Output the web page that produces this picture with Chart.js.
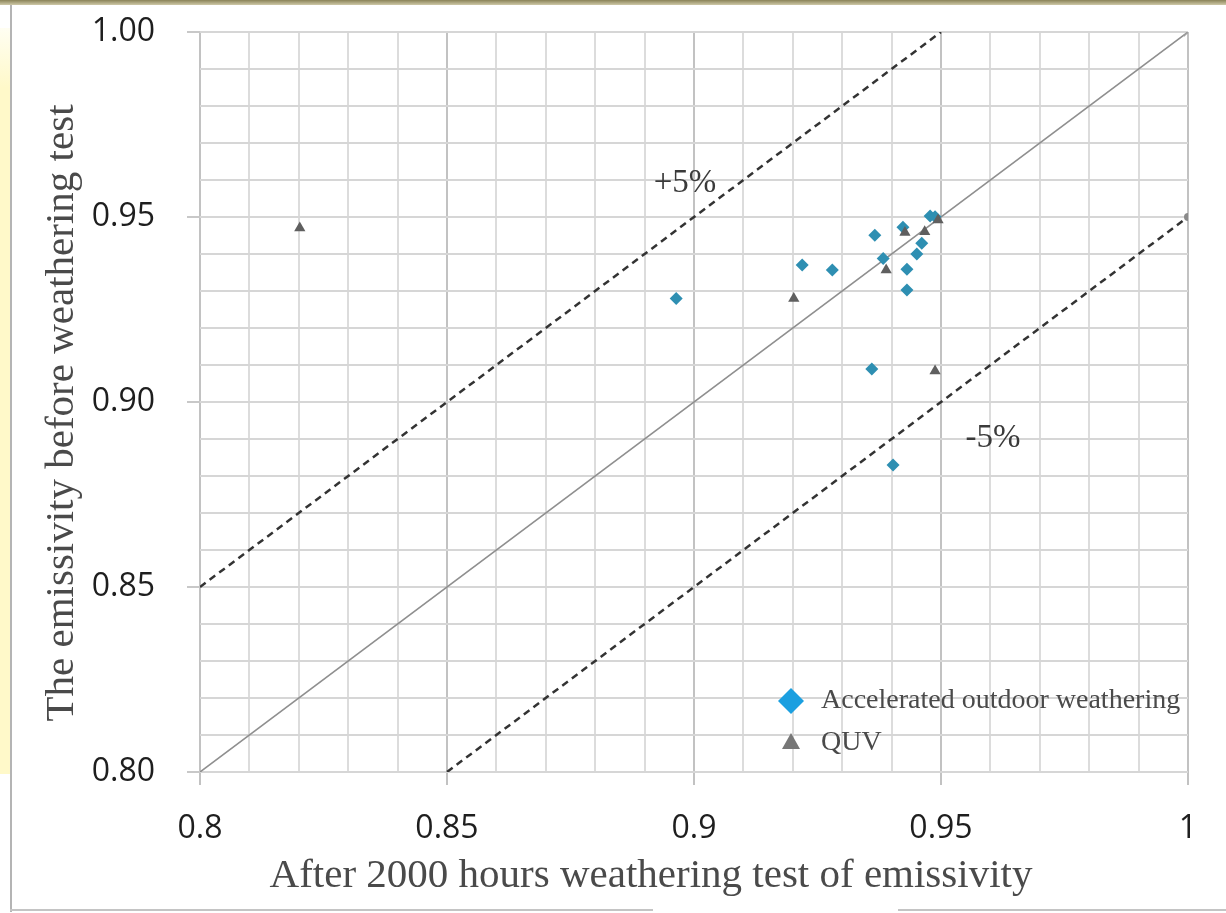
<!DOCTYPE html>
<html>
<head>
<meta charset="utf-8">
<script src="https://cdn.jsdelivr.net/npm/chart.js@4.4.0/dist/chart.umd.min.js"></script>
<style>
  body { margin: 0; background: #fff; width: 1226px; height: 913px; position: relative; overflow: hidden; }
  .frame-top { position: absolute; left: 0; top: 0; width: 1226px; height: 5px; background: linear-gradient(#8a8358, #cfc9a8); }
  .frame-yellow { position: absolute; left: 0; top: 28px; width: 10px; height: 746px; background: linear-gradient(#fffef2, #fff9c9 60px); }
  .frame-left { position: absolute; left: 10px; top: 5px; width: 2px; height: 907px; background: #b4b4b4; }
  .frame-bottom1 { position: absolute; left: 10px; top: 909px; width: 643px; height: 2px; background: #c4c4c4; }
  .frame-bottom2 { position: absolute; left: 898px; top: 909px; width: 328px; height: 2px; background: #c4c4c4; }
  #chart { position: absolute; left: 0; top: 0; }
</style>
</head>
<body>
<div class="frame-top"></div>
<div class="frame-yellow"></div>
<div class="frame-left"></div>
<div class="frame-bottom1"></div>
<div class="frame-bottom2"></div>
<canvas id="chart" width="1226" height="913"></canvas>
<script>
// accelerated outdoor weathering (after, before)
const outdoorX = [0.8964, 0.9219, 0.9280, 0.9366, 0.9383, 0.9423, 0.9431, 0.9431, 0.9451, 0.9461, 0.9478, 0.9488, 0.9360, 0.9403];
const outdoorY = [0.9280, 0.9370, 0.9357, 0.9451, 0.9388, 0.9472, 0.9359, 0.9303, 0.9400, 0.9429, 0.9503, 0.9501, 0.9089, 0.8830];

// QUV
const quvX = [0.8202, 0.9202, 0.9389, 0.9427, 0.9467, 0.9494, 0.9488];
const quvY = [0.9470, 0.9280, 0.9357, 0.9458, 0.9460, 0.9492, 0.9084];

// reference lines y = x, +5%, -5%
const equalLineX = [0.8, 1.0];
const equalLineY = [0.8, 1.0];
const plusLineX = [0.8, 0.95];
const plusLineY = [0.85, 1.0];
const minusLineX = [0.85, 1.0];
const minusLineY = [0.8, 0.95];

const seriesLabels = ["Accelerated outdoor weathering", "QUV"];
const xTitle = "After 2000 hours weathering test of emissivity";
const yTitle = "The emissivity before weathering test";
const axisMin = 0.8;
const axisMax = 1.0;

function pts(xs, ys) {
  return xs.map((x, i) => ({ x: x, y: ys[i] }));
}

function isMajor(v) {
  return Math.round(v * 100) % 5 === 0;
}

const serif = "'Liberation Serif', 'Times New Roman', serif";
const sans = "'Open Sans', 'Liberation Sans', sans-serif";

const overlayPlugin = {
  id: "overlay",
  afterDatasetsDraw(chart) {
    const c = chart.ctx;
    c.save();
    c.fillStyle = "#3a3a3a";
    c.font = "33px " + serif;
    c.textAlign = "center";
    c.textBaseline = "middle";
    c.fillText("+5%", 685, 183);
    c.fillText("-5%", 993, 438);

    // axis titles
    c.fillStyle = "#4a4a4a";
    c.font = "41px " + serif;
    c.fillText(xTitle, 651, 876);
    c.save();
    c.translate(62, 413);
    c.rotate(-Math.PI / 2);
    c.fillText(yTitle, 0, 0);
    c.restore();

    // legend
    c.fillStyle = "#1b9fe0";
    c.beginPath();
    c.moveTo(791, 688); c.lineTo(804, 701); c.lineTo(791, 714); c.lineTo(778, 701);
    c.closePath();
    c.fill();
    c.fillStyle = "#777";
    c.beginPath();
    c.moveTo(791, 733); c.lineTo(800, 749); c.lineTo(782, 749);
    c.closePath();
    c.fill();
    c.fillStyle = "#4a4a4a";
    c.font = "28px " + serif;
    c.textAlign = "left";
    c.fillText(seriesLabels[0], 821, 701);
    c.fillText(seriesLabels[1], 821, 743);
    c.restore();
  }
};

new Chart(document.getElementById("chart"), {
  type: "scatter",
  data: {
    datasets: [
      {
        label: seriesLabels[1],
        data: pts(quvX, quvY),
        pointStyle: "triangle",
        pointRadius: 6.5,
        backgroundColor: "#5f5f5f",
        borderColor: "#5f5f5f",
        borderWidth: 0
      },
      {
        label: seriesLabels[0],
        data: pts(outdoorX, outdoorY),
        pointStyle: "rectRot",
        pointRadius: 6.5,
        backgroundColor: "#2e8fb2",
        borderColor: "#2e8fb2",
        borderWidth: 0
      },
      {
        label: "equal",
        data: pts(equalLineX, equalLineY),
        showLine: true,
        borderColor: "#8f8f8f",
        borderWidth: 1.6,
        pointStyle: "crossRot",
        pointRadius: [0, 6],
        pointBorderColor: "#a0a0a0",
        pointBorderWidth: 1.5
      },
      {
        label: "+5%",
        data: pts(plusLineX, plusLineY),
        showLine: true,
        borderColor: "#333",
        borderWidth: 2.5,
        borderDash: [7, 5],
        pointRadius: 0
      },
      {
        label: "-5%",
        data: pts(minusLineX, minusLineY),
        showLine: true,
        borderColor: "#333",
        borderWidth: 2.5,
        borderDash: [7, 5],
        pointRadius: [0, 4],
        pointBackgroundColor: "#8a8a8a",
        pointBorderWidth: 0
      }
    ]
  },
  options: {
    responsive: false,
    animation: false,
    layout: { padding: { left: 38, right: 38, top: 32, bottom: 11 } },
    plugins: {
      legend: { display: false },
      tooltip: { enabled: false }
    },
    scales: {
      x: {
        type: "linear",
        min: axisMin,
        max: axisMax,
        afterFit: s => { s.height = 130; s.paddingLeft = 0; s.paddingRight = 0; },
        border: { display: false },
        grid: {
          color: ctx => isMajor(ctx.tick.value) ? "#c2c2c2" : "#dcdcdc",
          lineWidth: 2,
          tickLength: 13,
          tickColor: ctx => isMajor(ctx.tick.value) ? "#c2c2c2" : "rgba(0,0,0,0)"
        },
        ticks: {
          stepSize: 0.01,
          autoSkip: false,
          maxRotation: 0,
          padding: 25,
          color: "#1e1e1e",
          font: { family: sans, size: 32 },
          callback: v => isMajor(v) ? String(Math.round(v * 100) / 100) : ""
        }
      },
      y: {
        type: "linear",
        min: axisMin,
        max: axisMax,
        afterFit: s => { s.width = 162; s.paddingTop = 0; s.paddingBottom = 0; },
        border: { display: false },
        grid: {
          color: "#d6d6d6",
          lineWidth: 2,
          tickLength: 13,
          tickColor: ctx => isMajor(ctx.tick.value) ? "#c8c8c8" : "rgba(0,0,0,0)"
        },
        ticks: {
          stepSize: 0.01,
          autoSkip: false,
          padding: 32,
          color: "#1e1e1e",
          font: { family: sans, size: 32 },
          callback: v => isMajor(v) ? v.toFixed(2) : ""
        }
      }
    }
  },
  plugins: [overlayPlugin]
});
</script>
</body>
</html>
